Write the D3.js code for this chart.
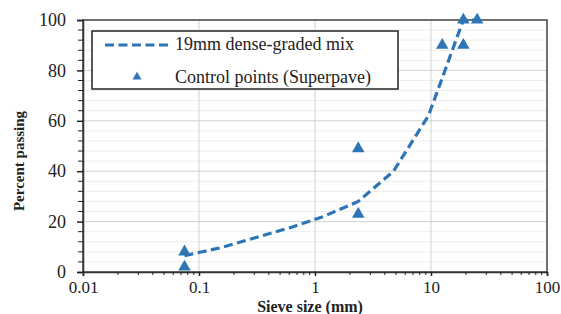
<!DOCTYPE html>
<html>
<head>
<meta charset="utf-8">
<script src="https://cdn.jsdelivr.net/npm/d3@7"></script>
<style>
body { margin:0; background:#fff; }
svg text { font-family: "Liberation Serif", "DejaVu Serif", "Times New Roman", serif !important; }
</style>
</head>
<body>
<div class="chart"></div>
<script>
// sieve sizes (mm) and percent passing for the mix
const sieves = [0.075, 0.15, 0.3, 0.6, 1.18, 2.36, 4.75, 9.5, 12.5, 19, 25];
const passing = [6.5, 9.5, 13.5, 17.5, 22, 28, 40, 62, 77, 100, 100];
// Superpave control points
const ctrlSieve = [0.075, 0.075, 2.36, 2.36, 12.5, 19, 19, 25];
const ctrlValue = [2, 8, 23, 49, 90, 90, 100, 100];
const xTicks = [0.01, 0.1, 1, 10, 100];
const yTicks = [0, 20, 40, 60, 80, 100];

const margin = {top:20, left:83, bottom:42, right:14};
const width = 561 - margin.left - margin.right;
const height = 314 - margin.top - margin.bottom;
const blue = '#2e75b6';
const serif = '"Liberation Serif", "DejaVu Serif", serif';

const svg = d3.select('.chart')
    .append('svg')
    .attr('width', 561)
    .attr('height', 314)
    .attr('font-family', serif)
    .append('g')
    .attr('transform', 'translate('+margin.left+','+margin.top+')');

const xScale = d3.scaleLog().domain([0.01, 100]).range([0, width]);
const yScale = d3.scaleLinear().domain([0, 100]).range([height, 0]);

// minor horizontal grid
svg.append('g')
    .selectAll('line')
    .data(d3.range(0, 101, 4).filter(v => v % 20 != 0))
    .enter().append('line')
    .attr('x1', 0).attr('x2', width)
    .attr('y1', d => yScale(d)).attr('y2', d => yScale(d))
    .attr('stroke', '#ededed');

// major grid
svg.append('g')
    .selectAll('line')
    .data(yTicks.slice(1, -1))
    .enter().append('line')
    .attr('x1', 0).attr('x2', width)
    .attr('y1', d => yScale(d)).attr('y2', d => yScale(d))
    .attr('stroke', '#d0d0d0');

svg.append('g')
    .selectAll('line')
    .data(xTicks.slice(1, -1))
    .enter().append('line')
    .attr('y1', 0).attr('y2', height)
    .attr('x1', d => xScale(d)).attr('x2', d => xScale(d))
    .attr('stroke', '#d0d0d0');

// frame
svg.append('rect')
    .attr('width', width).attr('height', height)
    .attr('fill', 'none')
    .attr('stroke', '#404040')
    .attr('stroke-width', 1.5);

// x axis with minor ticks
const xMinor = [];
[0.01, 0.1, 1, 10].forEach(b => { for (let i = 2; i <= 9; i++) xMinor.push(b * i); });

const xAxis = svg.append('g')
    .attr('class', 'x-axis')
    .attr('transform', `translate(0, ${height})`)
    .call(d3.axisBottom(xScale).tickValues(xTicks).tickFormat(d => d).tickSize(4).tickPadding(5));

xAxis.selectAll('.minor')
    .data(xMinor)
    .enter().append('line')
    .attr('x1', d => xScale(d)).attr('x2', d => xScale(d))
    .attr('y1', 0).attr('y2', 3)
    .attr('stroke', '#222');

const yAxis = svg.append('g')
    .attr('class', 'y-axis')
    .call(d3.axisLeft(yScale).tickValues(yTicks).tickSize(6).tickPadding(11));

yAxis.selectAll('.minor')
    .data(d3.range(0, 101, 4).filter(v => v % 20 != 0))
    .enter().append('line')
    .attr('x1', -5).attr('x2', 0)
    .attr('y1', d => yScale(d)).attr('y2', d => yScale(d))
    .attr('stroke', '#222');

svg.selectAll('.x-axis, .y-axis').attr('font-family', serif);
svg.selectAll('.domain').attr('stroke', '#333').attr('stroke-width', 1.5);
svg.selectAll('.tick line').attr('stroke', '#222').attr('stroke-width', 1.5);
svg.selectAll('.tick text')
    .attr('font-size', 18)
    .attr('fill', '#222');
xAxis.selectAll('.tick text').attr('font-size', 17);

// mix curve
const line = d3.line()
    .x((d, i) => xScale(sieves[i]))
    .y(d => yScale(d));

svg.append('path')
    .datum(passing)
    .attr('d', line)
    .attr('fill', 'none')
    .attr('stroke', blue)
    .attr('stroke-width', 3.2)
    .attr('stroke-dasharray', '9,4.5');

// control points
const tri = d3.symbol().type(d3.symbolTriangle).size(68);
svg.selectAll('.ctrl')
    .data(ctrlValue)
    .enter().append('path')
    .attr('class', 'ctrl')
    .attr('d', tri)
    .attr('transform', (d, i) => `translate(${xScale(ctrlSieve[i])},${yScale(d)})`)
    .attr('fill', blue);

// legend
const lg = svg.append('g').attr('transform', 'translate(9,11)');
lg.append('rect')
    .attr('width', 306).attr('height', 58)
    .attr('fill', '#fff')
    .attr('stroke', '#222')
    .attr('stroke-width', 1.5);
lg.append('line')
    .attr('x1', 13).attr('x2', 76).attr('y1', 14).attr('y2', 14)
    .attr('stroke', blue).attr('stroke-width', 3)
    .attr('stroke-dasharray', '9,4.5');
lg.append('text')
    .attr('x', 83).attr('y', 19)
    .attr('font-size', 18).attr('fill', '#222')
    .text('19mm dense-graded mix');
lg.append('path')
    .attr('d', d3.symbol().type(d3.symbolTriangle).size(35))
    .attr('transform', 'translate(45,46)')
    .attr('fill', blue);
lg.append('text')
    .attr('x', 83).attr('y', 52)
    .attr('font-size', 18).attr('fill', '#222')
    .text('Control points (Superpave)');

// axis titles
svg.append('text')
    .attr('x', xScale(1) - 5).attr('y', height + 40)
    .attr('text-anchor', 'middle')
    .attr('font-size', 16).attr('font-weight', 'bold').attr('fill', '#222')
    .text('Sieve size (mm)');

svg.append('text')
    .attr('transform', `translate(-59,${height / 2 + 15}) rotate(-90)`)
    .attr('text-anchor', 'middle')
    .attr('font-size', 15).attr('font-weight', 'bold').attr('fill', '#222')
    .text('Percent passing');
</script>
</body>
</html>
